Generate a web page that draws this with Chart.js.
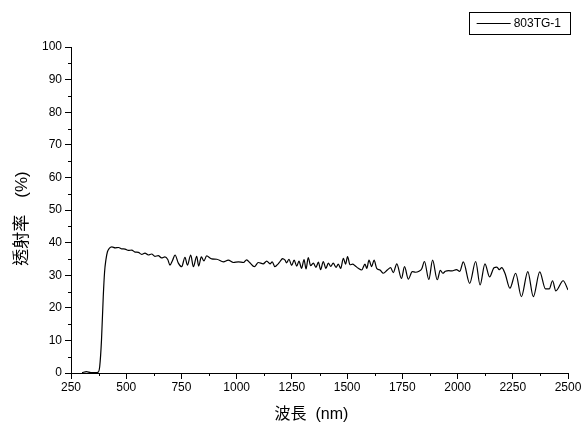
<!DOCTYPE html>
<html>
<head>
<meta charset="utf-8">
<script src="https://cdn.jsdelivr.net/npm/chart.js@4/dist/chart.umd.min.js"></script>
<style>
  html, body { margin: 0; padding: 0; background: #fff; }
  #wrap { width: 583px; height: 432px; }
</style>
</head>
<body>
<div id="wrap"><canvas id="chart" width="583" height="432"></canvas></div>
<script>
// transmittance spectrum of sample 803TG-1
const seriesName = "803TG-1";

const wavelengths = [
    300, 320, 340, 360, 372, 380, 388, 396, 402, 408,
    415, 423, 435, 450, 465, 480, 495, 510, 525, 540,
    555, 570, 585, 600, 615, 630, 645, 660, 675, 688,
    698, 710, 721, 736, 751, 766, 777, 792, 804, 819,
    828, 840, 852, 864, 887, 910, 940, 962, 985, 1008,
    1031, 1045, 1060, 1080, 1098, 1120, 1136, 1151, 1161, 1173,
    1188, 1201, 1207, 1219, 1226, 1237, 1249, 1260, 1272, 1282,
    1294, 1305, 1314, 1324, 1335, 1347, 1359, 1370, 1380, 1392,
    1404, 1415, 1426, 1437, 1450, 1460, 1471, 1483, 1493, 1502,
    1513, 1525, 1536, 1551, 1566, 1581, 1589, 1599, 1611, 1622,
    1634, 1649, 1664, 1682, 1697, 1709, 1725, 1746, 1760, 1777,
    1795, 1810, 1825, 1838, 1850, 1870, 1887, 1908, 1922, 1933,
    1945, 1960, 1975, 1995, 2010, 2026, 2055, 2082, 2102, 2124,
    2145, 2165, 2178, 2189, 2200, 2215, 2237, 2263, 2289, 2318,
    2343, 2372, 2398, 2415, 2430, 2445, 2478, 2500
];

const transmittance = [
    0.1, 0.4, 0.1, 0.1, 0.2, 2.0, 10.0, 23.4, 31.0, 34.7,
    37.2, 38.2, 38.7, 38.4, 38.5, 38.1, 38.0, 37.6, 37.7, 37.1,
    37.0, 36.4, 36.8, 36.2, 36.5, 35.8, 36.0, 35.3, 35.6, 34.8,
    33.1, 34.6, 36.2, 33.7, 32.6, 35.5, 33.1, 36.2, 32.6, 35.8,
    32.8, 35.6, 34.4, 35.9, 35.0, 34.9, 34.1, 34.6, 33.9, 34.1,
    33.9, 34.7, 33.8, 32.6, 33.9, 33.5, 34.3, 33.5, 34.1, 32.6,
    33.5, 34.6, 35.1, 34.6, 33.8, 34.9, 33.0, 34.6, 32.8, 34.3,
    32.1, 34.8, 31.9, 35.4, 32.9, 33.7, 32.4, 34.0, 31.7, 34.2,
    32.1, 33.7, 32.7, 33.7, 32.4, 33.4, 32.1, 35.2, 33.4, 35.7,
    33.2, 33.4, 32.9, 32.1, 31.6, 33.4, 32.1, 34.6, 32.6, 34.6,
    32.1, 31.6, 30.6, 31.6, 32.3, 30.8, 33.5, 29.0, 32.6, 28.8,
    31.1, 30.9, 31.2, 32.0, 34.2, 28.7, 34.6, 28.6, 31.5, 30.6,
    31.2, 31.4, 31.3, 31.7, 31.2, 34.1, 27.5, 34.2, 27.0, 33.5,
    29.5, 32.3, 32.5, 31.7, 32.3, 30.5, 26.0, 30.6, 23.4, 31.1,
    23.4, 31.0, 25.8, 25.8, 28.3, 25.2, 28.3, 25.5
];

// axis ranges / tick steps
const xRange = [250, 2500];
const xStep = 250;
const yRange = [0, 100];
const yStep = 10;

const xTitle = "波長  (nm)\u3000";
const yTitle = "透射率\u3000(%)\u3000";

const latinFont = "'Liberation Sans', Arial, 'Noto Sans CJK TC', sans-serif";

// short minor ticks halfway between the major ones
const minorTicks = {
    id: "minorTicks",
    afterDraw(chart) {
        const ctx = chart.ctx;
        ctx.save();
        ctx.strokeStyle = "#000";
        ctx.lineWidth = 1;
        const xs = chart.scales.x;
        const ys = chart.scales.y;
        for (let i = 0; i < xs.ticks.length - 1; i++) {
            const v = (xs.ticks[i].value + xs.ticks[i + 1].value) / 2;
            const px = Math.round(xs.getPixelForValue(v)) + 0.5;
            ctx.beginPath();
            ctx.moveTo(px, xs.top);
            ctx.lineTo(px, xs.top + 3);
            ctx.stroke();
        }
        for (let i = 0; i < ys.ticks.length - 1; i++) {
            const v = (ys.ticks[i].value + ys.ticks[i + 1].value) / 2;
            const py = Math.round(ys.getPixelForValue(v)) + 0.5;
            ctx.beginPath();
            ctx.moveTo(ys.right, py);
            ctx.lineTo(ys.right - 3, py);
            ctx.stroke();
        }
        ctx.restore();
    }
};

// boxed legend in the top right corner
const boxLegend = {
    id: "boxLegend",
    afterDraw(chart) {
        const ctx = chart.ctx;
        const ds = chart.data.datasets[0];
        ctx.save();
        ctx.font = "12px " + latinFont;
        const textW = ctx.measureText(ds.label).width;
        const right = chart.chartArea.right + 2;
        const w = textW + 54;
        const left = right - w;
        const top = 12;
        const h = 22;
        ctx.strokeStyle = "#000";
        ctx.lineWidth = 1;
        ctx.strokeRect(Math.round(left) + 0.5, top + 0.5, Math.round(w), h);
        const midY = top + h / 2 + 0.5;
        ctx.beginPath();
        ctx.strokeStyle = ds.borderColor;
        ctx.lineWidth = ds.borderWidth;
        ctx.moveTo(left + 8, midY);
        ctx.lineTo(left + 42, midY);
        ctx.stroke();
        ctx.fillStyle = "#000";
        ctx.textBaseline = "middle";
        ctx.fillText(ds.label, left + 45, midY);
        ctx.restore();
    }
};

new Chart(document.getElementById("chart"), {
    type: "line",
    data: {
        datasets: [{
            label: seriesName,
            data: wavelengths.map((w, i) => ({ x: w, y: transmittance[i] })),
            borderColor: "#000",
            borderWidth: 1.2,
            pointRadius: 0,
            fill: false,
            cubicInterpolationMode: "monotone"
        }]
    },
    options: {
        responsive: false,
        animation: false,
        devicePixelRatio: 1,
        layout: { padding: { left: 0, right: 15, top: 47, bottom: 0 } },
        plugins: {
            legend: { display: false },
            tooltip: { enabled: false }
        },
        scales: {
            x: {
                type: "linear",
                min: xRange[0],
                max: xRange[1],
                afterFit: (scale) => { scale.height = 59; },
                ticks: {
                    stepSize: xStep,
                    color: "#000",
                    padding: 1,
                    maxRotation: 0,
                    callback: (v) => String(v),
                    font: { family: latinFont, size: 12 }
                },
                grid: {
                    drawOnChartArea: false,
                    drawTicks: true,
                    tickLength: 6,
                    color: "#000"
                },
                border: { display: true, color: "#000", width: 1 },
                title: {
                    display: true,
                    text: xTitle,
                    color: "#000",
                    padding: { top: 0, bottom: 8 },
                    font: { family: latinFont, size: 16 }
                }
            },
            y: {
                min: yRange[0],
                max: yRange[1],
                afterFit: (scale) => { scale.width = 71; },
                ticks: {
                    stepSize: yStep,
                    color: "#000",
                    padding: 3,
                    callback: (v) => String(v),
                    font: { family: latinFont, size: 12 }
                },
                grid: {
                    drawOnChartArea: false,
                    drawTicks: true,
                    tickLength: 6,
                    color: "#000"
                },
                border: { display: true, color: "#000", width: 1 },
                title: {
                    display: true,
                    text: yTitle,
                    color: "#000",
                    padding: { top: 12, bottom: 0 },
                    font: { family: latinFont, size: 17 }
                }
            }
        }
    },
    plugins: [minorTicks, boxLegend]
});
</script>
</body>
</html>
